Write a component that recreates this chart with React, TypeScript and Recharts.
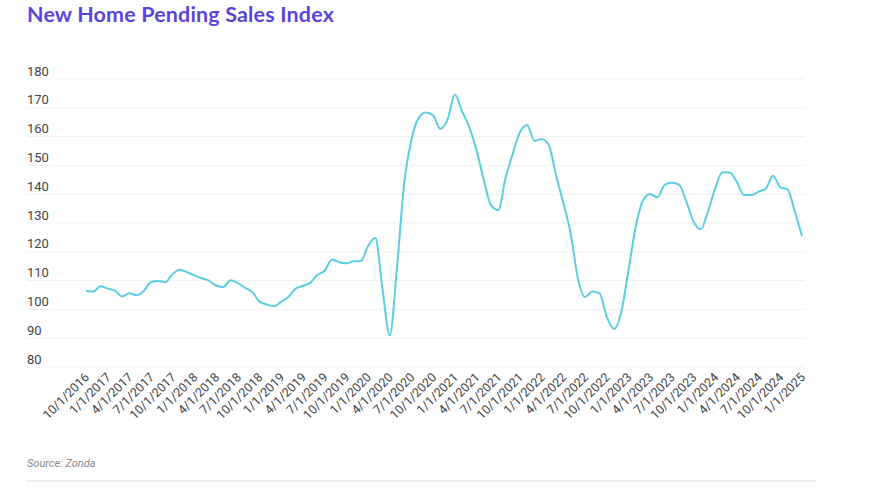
import React from "react";
import { LineChart, Line, XAxis, YAxis, CartesianGrid } from "recharts";

// monthly index values, Oct 2016 .. Jan 2025
const v2016 = [106.5, 106.2, 108];
const v2017 = [107.2, 106.5, 104.5, 105.6, 104.9, 106.5, 109.5, 109.9, 109.5, 112.4, 113.8, 112.9];
const v2018 = [111.8, 110.8, 110, 108.3, 107.8, 110.1, 109.1, 107.5, 106, 102.7, 101.7, 101.1];
const v2019 = [102.7, 104.4, 107.2, 108.2, 109.2, 112, 113.4, 117.3, 116.4, 116, 116.7, 116.8];
const v2020 = [122, 124.9, 107, 91, 114.5, 144, 159, 166.5, 168.4, 167.3, 162.7, 166];
const v2021 = [174.5, 168.8, 163.2, 155.3, 145, 136.2, 134.5, 145.5, 154, 161.5, 164, 158.5];
const v2022 = [159.2, 157, 146.5, 137, 126.5, 111, 104.3, 106.2, 105.6, 97.5, 93.2, 99];
const v2023 = [113.5, 128.5, 137.8, 140.1, 138.9, 143.2, 144, 143.3, 137.5, 130.5, 127.8, 134];
const v2024 = [142, 147.6, 147.5, 144.2, 139.7, 139.7, 140.9, 142, 146.4, 142.4, 141.7, 134];
const v2025 = [125.5];

const values = [...v2016, ...v2017, ...v2018, ...v2019, ...v2020, ...v2021, ...v2022, ...v2023, ...v2024, ...v2025];

const startYear = 2016;
const startMonth = 10;
const labels = values.map((_, i) => {
  const m = ((startMonth - 1 + i) % 12) + 1;
  const y = startYear + Math.floor((startMonth - 1 + i) / 12);
  return `${m}/1/${y}`;
});

const yTicks = [80, 90, 100, 110, 120, 130, 140, 150, 160, 170, 180];

const data = labels.map((label, i) => ({ label, value: values[i] }));

const LEFT = 27;
const TICK_FONT = "Roboto, 'Noto Sans', sans-serif";

function YTick({ y, payload }: any) {
  return (
    <text x={LEFT} y={y - 3.5} fill="#444" fontSize={13} fontFamily={TICK_FONT} textAnchor="start">
      {payload.value}
    </text>
  );
}

function XTick({ x, y, payload }: any) {
  return (
    <g transform={`translate(${x + 4},${y + 11})`}>
      <text
        x={0}
        y={0}
        fill="#444"
        fontSize={12.5}
        fontFamily={TICK_FONT}
        textAnchor="end"
        transform="rotate(-45)"
      >
        {payload.value}
      </text>
    </g>
  );
}

export default function App() {
  return (
    <div
      style={{
        position: "absolute",
        left: 0,
        top: 0,
        width: 876,
        height: 496,
        background: "#fff",
        overflow: "hidden",
      }}
    >
      <div
        style={{
          position: "absolute",
          left: LEFT,
          top: 1,
          fontFamily: "Lato, sans-serif",
          fontWeight: 700,
          fontSize: 21.5,
          letterSpacing: 0.15,
          color: "#5b45d8",
          whiteSpace: "nowrap",
        }}
      >
        New Home Pending Sales Index
      </div>
      <div style={{ position: "absolute", left: 0, top: 0 }}>
        <LineChart
          width={876}
          height={496}
          data={data}
          margin={{ top: 79, right: 71, left: LEFT - 1, bottom: 49 }}
        >
          <CartesianGrid stroke="#f1f1f1" vertical={false} />
          <XAxis
            dataKey="label"
            axisLine={false}
            tickLine={false}
            tickSize={0}
            tickMargin={0}
            interval={2}
            height={80}
            padding={{ left: 59, right: 3 }}
            tick={<XTick />}
          />
          <YAxis
            width={1}
            domain={[80, 180]}
            ticks={yTicks}
            interval={0}
            axisLine={false}
            tickLine={false}
            tick={<YTick />}
          />
          <Line
            type="monotone"
            dataKey="value"
            stroke="#5bcfe0"
            strokeWidth={2}
            dot={false}
            isAnimationActive={false}
          />
        </LineChart>
      </div>
      <div
        style={{
          position: "absolute",
          left: LEFT,
          top: 457,
          fontFamily: "Roboto, sans-serif",
          fontStyle: "italic",
          fontSize: 11,
          color: "#888",
        }}
      >
        Source: Zonda
      </div>
      <div
        style={{
          position: "absolute",
          left: LEFT,
          top: 480,
          width: 789,
          height: 2,
          background: "#ebebeb",
        }}
      />
    </div>
  );
}
